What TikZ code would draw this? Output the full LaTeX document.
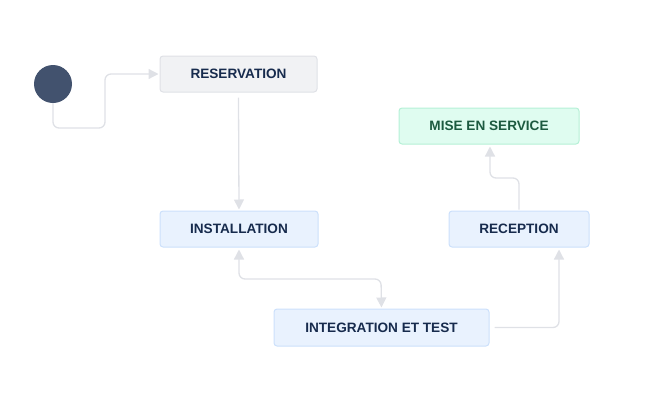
\documentclass[tikz,border=0pt]{standalone}
\usepackage{fontspec}
\setmainfont{Liberation Sans}
\usetikzlibrary{arrows.meta}
\definecolor{linec}{HTML}{DFE1E6}
\definecolor{navy}{HTML}{172B4D}
\definecolor{grayfill}{HTML}{F1F2F4}
\definecolor{grayborder}{HTML}{DFE1E6}
\definecolor{bluefill}{HTML}{E9F2FE}
\definecolor{blueborder}{HTML}{CCE0FB}
\definecolor{greenfill}{HTML}{DFFCF0}
\definecolor{greenborder}{HTML}{B5F0D6}
\definecolor{greentext}{HTML}{1C5A40}
\definecolor{startc}{HTML}{42526E}
\begin{document}
\begin{tikzpicture}[x=1pt,y=-1pt,
  statebox/.style={draw, line width=1pt, rounded corners=3pt, inner sep=0pt,
    font=\fontsize{13.6}{15}\selectfont\bfseries, text=navy},
  grayst/.style={statebox, fill=grayfill, draw=grayborder},
  bluest/.style={statebox, fill=bluefill, draw=blueborder},
  greenst/.style={statebox, fill=greenfill, draw=greenborder, text=greentext},
  conn/.style={draw=linec, line width=1.3pt, rounded corners=6pt,
    -{Triangle[width=10pt,length=10pt]}},
  bothconn/.style={conn, {Triangle[width=10pt,length=10pt]}-{Triangle[width=10pt,length=10pt]}}
]
\useasboundingbox (0,0) rectangle (667,402);
\node[circle, fill=startc, minimum size=38pt, inner sep=0pt] (start) at (53,84) {};
\node[grayst, minimum width=157pt, minimum height=36pt] (res) at (238.5,74) {RESERVATION};
\node[bluest, minimum width=158pt, minimum height=36pt] (inst) at (239,229) {INSTALLATION};
\node[bluest, minimum width=215pt, minimum height=37pt] (integ) at (381.5,327.5) {INTEGRATION ET TEST};
\node[bluest, minimum width=140pt, minimum height=36pt] (recep) at (519,229) {RECEPTION};
\node[greenst, minimum width=180pt, minimum height=36pt] (mise) at (489,126) {MISE EN SERVICE};

\coordinate (a1) at (53,128);
\coordinate (a2) at (105,128);
\coordinate (a3) at (105,74);
\draw[conn] (start.south) -- (a1) -- (a2) -- (a3) -- ([xshift=-1pt]res.west);

\draw[conn] ([yshift=-5pt]res.south) -- ([yshift=1pt]inst.north);

\coordinate (b1) at (239,279);
\coordinate (b2) at (381,279);
\draw[bothconn] ([yshift=-2pt]inst.south) -- (b1) -- (b2) -- ([yshift=1pt]integ.north);

\coordinate (c1) at (559,327.5);
\draw[conn] ([xshift=5pt]integ.east) -- (c1) -- ([xshift=40pt,yshift=-2pt]recep.south);

\coordinate (d1) at (519,178);
\coordinate (d2) at (490,178);
\draw[conn] ([yshift=1pt]recep.north) -- (d1) -- (d2) -- ([xshift=1pt,yshift=-2pt]mise.south);
\end{tikzpicture}
\end{document}
